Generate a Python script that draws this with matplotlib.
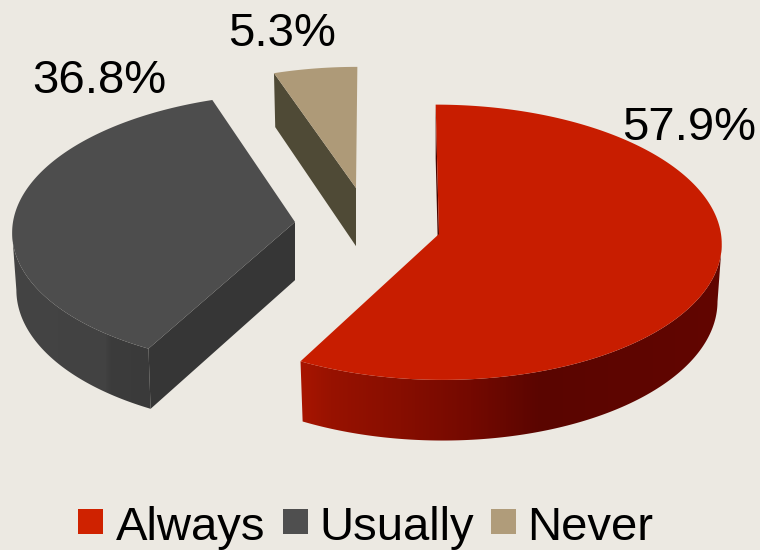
import matplotlib
matplotlib.use("Agg")
from matplotlib import pyplot as plt
from matplotlib.patches import Polygon, Rectangle
import numpy as np

labels = ["Always", "Usually", "Never"]
shares = [57.9, 36.8, 5.3]
share_text = ["57.9%", "36.8%", "5.3%"]

top_colors = ["#c81d00", "#4d4d4d", "#ae9a78"]
key_colors = ["#cf2200", "#4f4f4f", "#b09c7a"]
cut_colors = ["#4a0400", "#363636", "#4f4a36"]
background = "#ece9e2"

# pixel layout of the exploded slices: centre x, centre y, radius scale
centres = [(439, 234, 1.0), (295, 222, 1.0), (356, 188, 0.955)]
RX, RY, DEPTH, PERSP = 282.0, 133.0, 57.0, 0.06
VX, VY = 380.0, 165.0

# rim shading, x position against colour
shade_x = {
    0: ([300, 330, 400, 470, 540, 720], ["#a81500", "#981200", "#870e00", "#740900", "#5a0500", "#620600"]),
    1: ([10, 105, 110, 150], ["#444444", "#424242", "#3c3c3c", "#3a3a3a"]),
}


def project(theta, cx, cy, scale, low=False):
    """clockwise angle from 12 o'clock -> pixel position, low=True for the bottom rim"""
    u = np.sin(theta) * scale
    v = -np.cos(theta)
    s = 1 / (1 - PERSP * v)
    x = VX + (cx - VX + RX * u * (0.985 if low else 1.0)) * s
    y = VY + (cy - VY + RY * v * scale) * s
    if low:
        y = y + DEPTH * s
    return x, y


def visible_arc(ts, cx, cy, scale, low=False):
    # cut an arc at its widest point on the side of the pie, the rim silhouette starts there
    x, y = project(ts, cx, cy, scale, low)
    if ts[0] < np.pi / 2:
        k = np.argmax(x)
        return x[k:], y[k:]
    if ts[-1] > 1.5 * np.pi:
        k = np.argmin(x)
        return x[:k + 1], y[:k + 1]
    return x, y


def rim_strip(index, x0, x1):
    # one row image running through the shading stops
    xs, cols = shade_x[index]
    rgb = np.array([matplotlib.colors.to_rgb(c) for c in cols])
    px = np.arange(x0, x1 + 1)
    return np.dstack([np.interp(px, xs, rgb[:, i]) for i in range(3)])


fig = plt.figure(figsize=(7.6, 5.5), dpi=100, facecolor=background)
ax = fig.add_axes([0, 0, 1, 1])

edges = np.radians(np.concatenate([[0], np.cumsum(shares)]) / sum(shares) * 360)

for i, (cx, cy, scale) in enumerate(centres):
    a0, a1 = edges[i], edges[i + 1]
    t = np.linspace(a0, a1, 200)
    x_top, y_top = project(t, cx, cy, scale)

    # outer rim, between the widest points of the top and bottom arcs
    if i in shade_x:
        ts = np.linspace(max(a0, np.pi / 2 - 0.5), min(a1, 1.5 * np.pi + 0.5), 300)
        xa, ya = visible_arc(ts, cx, cy, scale)
        xb, yb = visible_arc(ts, cx, cy, scale, low=True)
        outline = np.column_stack([np.r_[xa, xb[::-1]], np.r_[ya, yb[::-1]]])
        rim = Polygon(outline, closed=True, facecolor="none", edgecolor="none", transform=ax.transData)
        ax.add_patch(rim)
        x0, x1 = int(outline[:, 0].min()) - 1, int(outline[:, 0].max()) + 1
        img = ax.imshow(rim_strip(i, x0, x1), extent=(x0, x1 + 1, outline[:, 1].max() + 1, outline[:, 1].min() - 1),
                        aspect="auto", interpolation="nearest")
        img.set_clip_path(rim)

    # flat cut face of the first radius
    xr, yr = project(a0, cx, cy, scale)
    xl, yl = project(a0, cx, cy, scale, low=True)
    face = [(xr, yr), (cx, cy), (cx, cy + DEPTH * 1.02), (xl, yl)]
    ax.add_patch(Polygon(face, closed=True, facecolor=cut_colors[i], edgecolor="none"))

    # top surface
    ax.add_patch(Polygon(np.column_stack([np.r_[cx, x_top], np.r_[cy, y_top]]), closed=True,
                         facecolor=top_colors[i], edgecolor="none"))

# percentage labels
text_font = ["Liberation Sans", "DejaVu Sans"]
label_pos = [(622, 140), (32, 93), (228, 46)]
for txt, (x, y) in zip(share_text, label_pos):
    ax.text(x, y, txt, fontsize=34, family=text_font, color="black", ha="left", va="baseline")

# legend row
key_x = [78, 283, 491]
text_x = [116, 319, 527]
for name, col, kx, tx in zip(labels, key_colors, key_x, text_x):
    ax.add_patch(Rectangle((kx, 509), 25, 25, facecolor=col, edgecolor="none"))
    ax.text(tx, 540, name, fontsize=34, family=text_font, color="black", ha="left", va="baseline")

ax.set_xlim(0, 760)
ax.set_ylim(550, 0)
ax.axis("off")

fig.savefig("out.png", dpi=100, facecolor=background)
